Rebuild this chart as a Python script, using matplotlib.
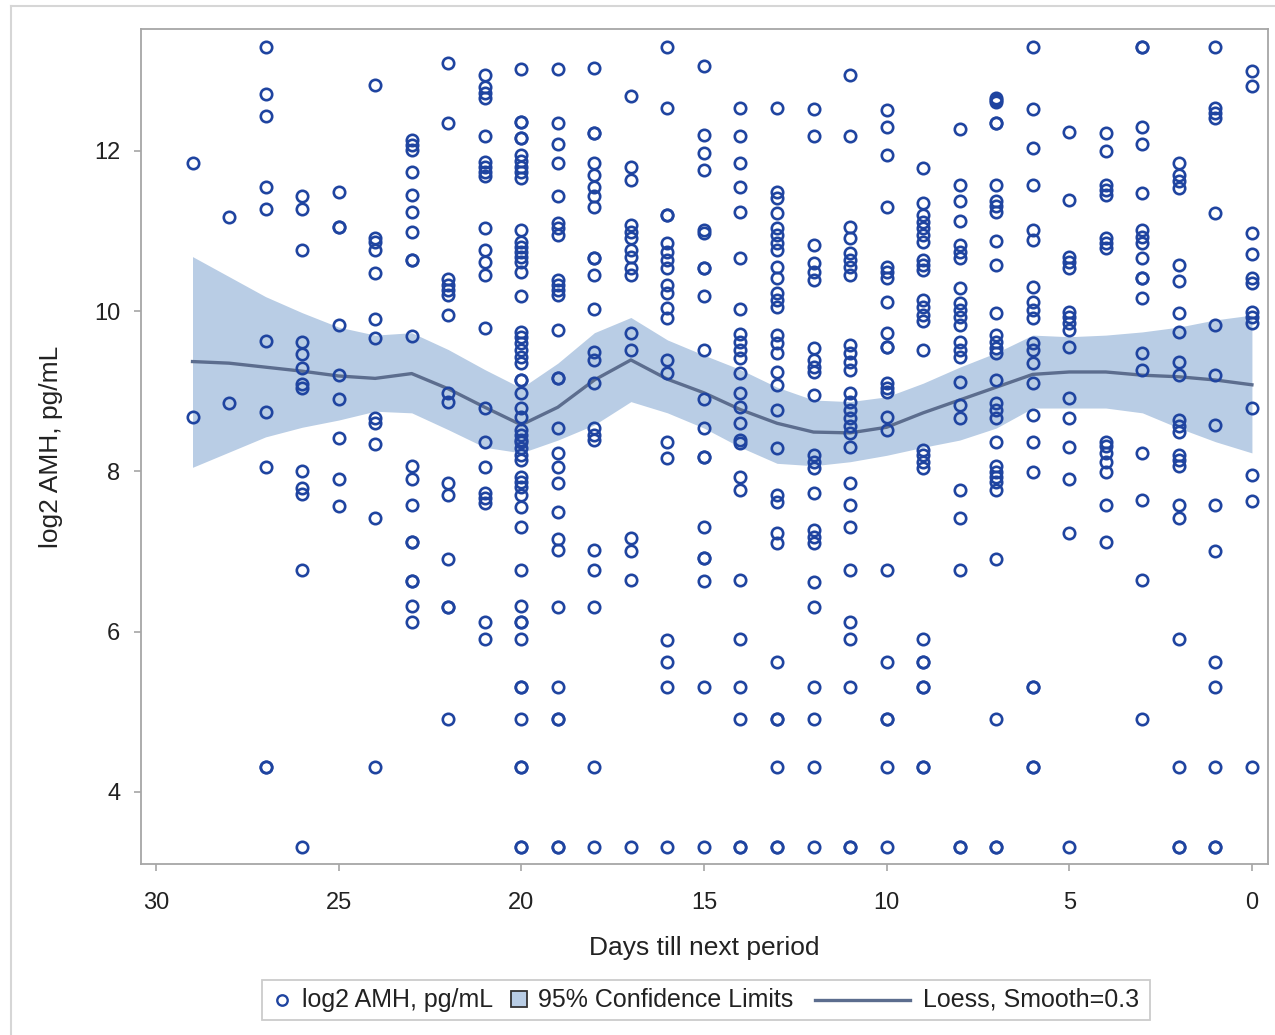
import numpy as np
import matplotlib.pyplot as plt
from matplotlib.lines import Line2D
from matplotlib.patches import Rectangle

plt.rcParams['font.family'] = ['Liberation Sans', 'DejaVu Sans']

# log2 AMH readings by days till next period
day29 = [11.85, 8.68]
day28 = [11.18, 8.85]
day27 = [13.30, 12.71, 12.44, 11.55, 11.28, 9.63, 8.74, 8.06, 4.31, 4.31]
day26 = [11.44, 11.28, 10.76, 9.62, 9.47, 9.29, 9.09, 9.04, 8.01, 7.79, 7.72, 6.77, 3.31]
day25 = [11.49, 11.05, 11.05, 9.82, 9.20, 8.90, 8.42, 7.91, 7.57]
day24 = [12.82, 10.91, 10.86, 10.76, 10.48, 9.90, 9.67, 8.67, 8.60, 8.34, 7.42, 4.31]
day23 = [12.14, 12.07, 12.01, 11.73, 11.45, 11.24, 10.99, 10.64, 10.64, 9.69, 8.07, 7.90,
         7.58, 7.12, 7.12, 6.63, 6.63, 6.32, 6.12]
day22 = [13.09, 12.35, 10.40, 10.33, 10.26, 10.20, 9.95, 8.98, 8.87, 7.86, 7.71, 6.91,
         6.31, 6.31, 4.91]
day21 = [12.94, 12.79, 12.72, 12.66, 12.19, 11.86, 11.80, 11.74, 11.68, 11.04, 10.76, 10.61,
         10.45, 9.79, 8.79, 8.37, 8.06, 7.73, 7.67, 7.60, 6.12, 5.91]
day20 = [13.02, 12.36, 12.36, 12.16, 12.16, 11.95, 11.87, 11.80, 11.73, 11.66, 11.01, 10.86,
         10.80, 10.74, 10.67, 10.61, 10.49, 10.19, 9.74, 9.68, 9.60, 9.52, 9.43, 9.35, 9.14,
         9.14, 8.98, 8.79, 8.68, 8.52, 8.45, 8.39, 8.37, 8.29, 8.20, 8.14, 7.93, 7.87, 7.81,
         7.71, 7.56, 7.31, 6.77, 6.32, 6.12, 6.12, 5.91, 5.31, 5.31, 4.91, 4.31, 4.31, 3.31, 3.31]
day19 = [13.02, 12.35, 12.09, 11.85, 11.44, 11.10, 11.04, 10.95, 10.39, 10.33, 10.26, 10.20,
         9.77, 9.17, 9.17, 8.54, 8.23, 8.06, 7.85, 7.49, 7.15, 7.02, 6.31, 5.31, 4.91, 4.91,
         3.31, 3.31]
day18 = [13.03, 12.22, 12.22, 11.85, 11.70, 11.55, 11.43, 11.30, 10.66, 10.66, 10.45, 10.03,
         9.49, 9.39, 9.10, 8.54, 8.45, 8.39, 7.02, 6.77, 6.31, 4.31, 3.31]
day17 = [12.68, 11.80, 11.64, 11.08, 10.99, 10.91, 10.76, 10.67, 10.54, 10.45, 9.73, 9.52,
         7.17, 7.00, 6.64, 3.31]
day16 = [13.30, 12.54, 11.20, 11.20, 10.85, 10.74, 10.64, 10.54, 10.33, 10.23, 10.04, 9.91,
         9.39, 9.23, 8.37, 8.17, 5.90, 5.62, 5.31, 3.31]
day15 = [13.06, 12.20, 11.97, 11.76, 11.01, 10.97, 10.54, 10.54, 10.19, 9.52, 8.90, 8.54,
         8.18, 8.18, 7.31, 6.92, 6.92, 6.63, 5.31, 3.31]
day14 = [12.54, 12.19, 11.85, 11.55, 11.24, 10.66, 10.03, 9.71, 9.62, 9.52, 9.42, 9.23,
         8.98, 8.80, 8.60, 8.39, 8.35, 7.93, 7.77, 6.64, 5.91, 5.31, 4.91, 3.31, 3.31]
day13 = [12.54, 11.49, 11.41, 11.23, 11.04, 10.95, 10.85, 10.76, 10.55, 10.41, 10.23, 10.14,
         10.05, 9.70, 9.60, 9.48, 9.24, 9.08, 8.77, 8.29, 7.71, 7.62, 7.23, 7.11, 5.62, 4.91,
         4.91, 4.31, 3.31, 3.31]
day12 = [12.52, 12.19, 10.83, 10.60, 10.49, 10.39, 9.54, 9.39, 9.30, 9.24, 8.95, 8.20,
         8.12, 8.04, 7.73, 7.27, 7.18, 7.11, 6.62, 6.31, 5.31, 4.91, 4.31, 3.31]
day11 = [12.95, 12.19, 11.05, 10.91, 10.73, 10.64, 10.55, 10.45, 9.58, 9.48, 9.37, 9.27,
         8.98, 8.87, 8.77, 8.67, 8.56, 8.48, 8.30, 7.85, 7.58, 7.31, 6.77, 6.12, 5.91, 5.31,
         3.31, 3.31]
day10 = [12.51, 12.30, 11.95, 11.30, 10.55, 10.49, 10.41, 10.11, 9.73, 9.55, 9.55, 9.10,
         9.04, 8.99, 8.68, 8.52, 6.77, 5.62, 4.91, 4.91, 4.31, 3.31]
day9 = [11.79, 11.35, 11.20, 11.11, 11.04, 10.95, 10.86, 10.64, 10.58, 10.51, 10.14, 10.05,
        9.95, 9.87, 9.52, 8.27, 8.20, 8.12, 8.04, 5.91, 5.62, 5.62, 5.31, 5.31, 4.31, 4.31]
day8 = [12.27, 11.57, 11.37, 11.12, 10.83, 10.74, 10.66, 10.29, 10.10, 10.01, 9.93, 9.83,
        9.62, 9.52, 9.43, 9.12, 8.83, 8.67, 7.77, 7.42, 6.77, 3.31, 3.31]
day7 = [12.66, 12.63, 12.61, 12.35, 12.35, 11.57, 11.37, 11.31, 11.24, 10.87, 10.58, 9.98,
        9.70, 9.62, 9.54, 9.48, 9.14, 8.85, 8.77, 8.67, 8.37, 8.07, 7.99, 7.93, 7.87, 7.77,
        6.91, 4.91, 3.31, 3.31]
day6 = [13.30, 12.52, 12.04, 11.57, 11.01, 10.89, 10.30, 10.11, 10.01, 9.91, 9.60, 9.52,
        9.35, 9.10, 8.70, 8.37, 7.99, 5.31, 5.31, 4.31, 4.31]
day5 = [12.24, 11.38, 10.67, 10.61, 10.54, 9.99, 9.93, 9.85, 9.77, 9.55, 8.92, 8.67, 8.30,
        7.90, 7.23, 3.31]
day4 = [12.22, 12.00, 11.57, 11.51, 11.45, 10.91, 10.85, 10.79, 8.37, 8.31, 8.23, 8.12,
        7.99, 7.58, 7.12]
day3 = [13.30, 13.30, 12.30, 12.09, 11.47, 11.01, 10.93, 10.85, 10.66, 10.41, 10.41, 10.16,
        9.48, 9.27, 8.23, 7.64, 6.64, 4.91]
day2 = [11.85, 11.70, 11.62, 11.54, 10.58, 10.37, 9.98, 9.74, 9.37, 9.20, 8.64, 8.56, 8.49,
        8.20, 8.14, 8.07, 7.58, 7.42, 5.91, 4.31, 3.31, 3.31]
day1 = [13.30, 12.54, 12.47, 12.41, 11.23, 9.82, 9.20, 8.58, 7.58, 7.01, 5.62, 5.31, 4.31,
        3.31, 3.31]
day0 = [12.99, 12.81, 10.98, 10.71, 10.41, 10.35, 9.99, 9.93, 9.85, 8.79, 7.96, 7.63, 4.31]

by_day = [day29, day28, day27, day26, day25, day24, day23, day22, day21, day20,
          day19, day18, day17, day16, day15, day14, day13, day12, day11, day10,
          day9, day8, day7, day6, day5, day4, day3, day2, day1, day0]

# loess fit and 95% limits, days 29 .. 0
fit_days = list(range(29, -1, -1))
loess_fit = [9.37, 9.35, 9.30, 9.25, 9.19, 9.16, 9.22, 9.03, 8.80, 8.58,
             8.80, 9.14, 9.39, 9.15, 8.98, 8.77, 8.60, 8.49, 8.48, 8.55,
             8.73, 8.89, 9.05, 9.21, 9.24, 9.24, 9.20, 9.18, 9.14, 9.08]
ci_upper = [10.68, 10.43, 10.18, 9.98, 9.80, 9.70, 9.73, 9.52, 9.27, 9.04,
            9.35, 9.73, 9.92, 9.64, 9.45, 9.27, 9.05, 8.89, 8.87, 8.93,
            9.10, 9.30, 9.48, 9.70, 9.68, 9.70, 9.74, 9.80, 9.89, 9.95]
ci_lower = [8.05, 8.24, 8.43, 8.55, 8.64, 8.75, 8.73, 8.52, 8.30, 8.23,
            8.39, 8.58, 8.87, 8.73, 8.54, 8.30, 8.10, 8.07, 8.12, 8.20,
            8.30, 8.39, 8.54, 8.79, 8.79, 8.79, 8.73, 8.54, 8.37, 8.23]

x_ticks = [30, 25, 20, 15, 10, 5, 0]
y_ticks = [4, 6, 8, 10, 12]

mark_col = '#1f44a0'
band_col = '#b9cde5'
line_col = '#5c6d8e'
txt_col = '#222222'
axis_col = '#a6a6a6'

W, H = 1275, 1035
fig = plt.figure(figsize=(W / 100, H / 100), dpi=100)
ax = fig.add_axes([141 / W, 1 - 864 / H, (1268 - 141) / W, (864 - 29) / H])

ax.fill_between(fit_days, ci_lower, ci_upper, color=band_col, lw=0, zorder=1)
ax.plot(fit_days, loess_fit, color=line_col, lw=2.4, zorder=2)

xs, ys = [], []
for d, vals in zip(fit_days, by_day):
    xs += [d] * len(vals)
    ys += vals
ax.plot(xs, ys, 'o', ms=8.2, mfc='none', mec=mark_col, mew=1.9, zorder=3)

ax.set_xlim(30.41, -0.44)
ax.set_ylim(3.10, 13.52)
ax.set_xticks(x_ticks)
ax.set_yticks(y_ticks)
ax.tick_params(colors=axis_col, labelcolor=txt_col, labelsize=17, length=5, width=1.2)
ax.tick_params(axis='x', pad=15)
ax.tick_params(axis='y', pad=10)
for s in ax.spines.values():
    s.set_color(axis_col)
    s.set_linewidth(1.3)

ax.set_xlabel('Days till next period', fontsize=19, color=txt_col, labelpad=16)
ax.set_ylabel('log2 AMH, pg/mL', fontsize=19, color=txt_col, labelpad=22)

# outer frame
fig.add_artist(Line2D([11 / W, 11 / W], [0, 1 - 6 / H], color='#d6d6d6', lw=1.5))
fig.add_artist(Line2D([11 / W, 1], [1 - 6 / H, 1 - 6 / H], color='#d6d6d6', lw=1.5))

# legend drawn by hand to match the layout
def fx(px):
    return px / W

def fy(py):
    return 1 - py / H

fig.add_artist(Rectangle((fx(262), fy(1020)), fx(1150) - fx(262), fy(980) - fy(1020),
                         fill=False, edgecolor='#cccccc', lw=1.3))
ly = fy(1000)
fig.add_artist(Line2D([fx(282)], [ly], marker='o', ms=7.5, mfc='none', mec=mark_col, mew=1.7))
fig.text(fx(302), ly, 'log2 AMH, pg/mL', fontsize=18, color=txt_col, va='center')
fig.add_artist(Rectangle((fx(511), fy(1007)), fx(527) - fx(511), fy(991) - fy(1007),
                         facecolor=band_col, edgecolor='#333333', lw=1.3))
fig.text(fx(538), ly, '95% Confidence Limits', fontsize=18, color=txt_col, va='center')
fig.add_artist(Line2D([fx(815), fx(910)], [ly, ly], color=line_col, lw=2.4))
fig.text(fx(923), ly, 'Loess, Smooth=0.3', fontsize=18, color=txt_col, va='center')

fig.savefig('out.png', dpi=100)
